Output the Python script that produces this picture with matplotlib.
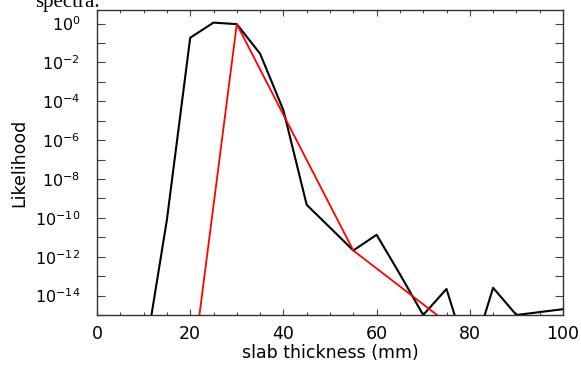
import numpy as np
import matplotlib
matplotlib.use("Agg")
import matplotlib.pyplot as plt
from matplotlib.ticker import FixedLocator, MultipleLocator, FuncFormatter

# slab thickness (mm) and likelihood
thick = [10, 15, 20, 25, 30, 35, 40, 45, 50, 55, 60, 65, 70, 75, 80, 85, 90, 95, 100]
like_log = [-17.5, -10.1, -0.73, 0.05, -0.03, -1.55, -4.46, -9.33, -10.5, -11.68,
            -10.87, -12.9, -15.0, -13.66, -17.5, -13.6, -15.0, -14.85, -14.7]
like = 10.0 ** np.array(like_log)

# red fit
fit_x = [20, 30, 55, 80]
fit_log = [-18.7, -0.03, -11.68, -16.3]
fit_y = 10.0 ** np.array(fit_log)

ytick_exp = [0, -2, -4, -6, -8, -10, -12, -14]

plt.rcParams['font.family'] = ['DejaVu Sans']
plt.rcParams['mathtext.fontset'] = 'dejavusans'

fig = plt.figure(figsize=(5.81, 3.65), dpi=100)
ax = fig.add_axes([97 / 581, 1 - 315 / 365, (563 - 97) / 581, (315 - 10) / 365])

ax.plot(thick, like, color='black', lw=1.5)
ax.plot(fit_x, fit_y, color='red', lw=1.3)

ax.set_yscale('log')
ax.set_xlim(0, 100)
ax.set_ylim(1e-15, 5)

ax.xaxis.set_major_locator(MultipleLocator(20))
ax.xaxis.set_minor_locator(MultipleLocator(5))
ax.yaxis.set_major_locator(FixedLocator([10.0 ** e for e in ytick_exp]))
ax.yaxis.set_major_formatter(FuncFormatter(lambda v, p: r'$10^{%d}$' % round(np.log10(v))))
ax.yaxis.set_minor_locator(FixedLocator([10.0 ** e for e in range(-15, 1) if e % 2]))
ax.yaxis.set_minor_formatter(FuncFormatter(lambda v, p: ''))

ax.tick_params(axis='both', which='both', direction='in', top=True, right=True,
               width=0.8, color='#444444')
ax.tick_params(axis='x', which='major', length=4.5, pad=7, labelsize=12.5)
ax.tick_params(axis='x', which='minor', length=2.2)
ax.tick_params(axis='y', which='both', length=6, pad=12, labelsize=11.5)
for s in ax.spines.values():
    s.set_linewidth(1.0)
    s.set_color('#333333')

ax.set_xlabel('slab thickness (mm)', fontsize=12.5, labelpad=1)
ax.set_ylabel('Likelihood', fontsize=12.5)
ax.yaxis.set_label_coords(-0.148, 0.5)

fig.text(35 / 581, 1 - 7 / 365, 'spectra.', family='Liberation Serif', fontsize=15,
         va='baseline', ha='left')

fig.savefig('out.png', dpi=100)
